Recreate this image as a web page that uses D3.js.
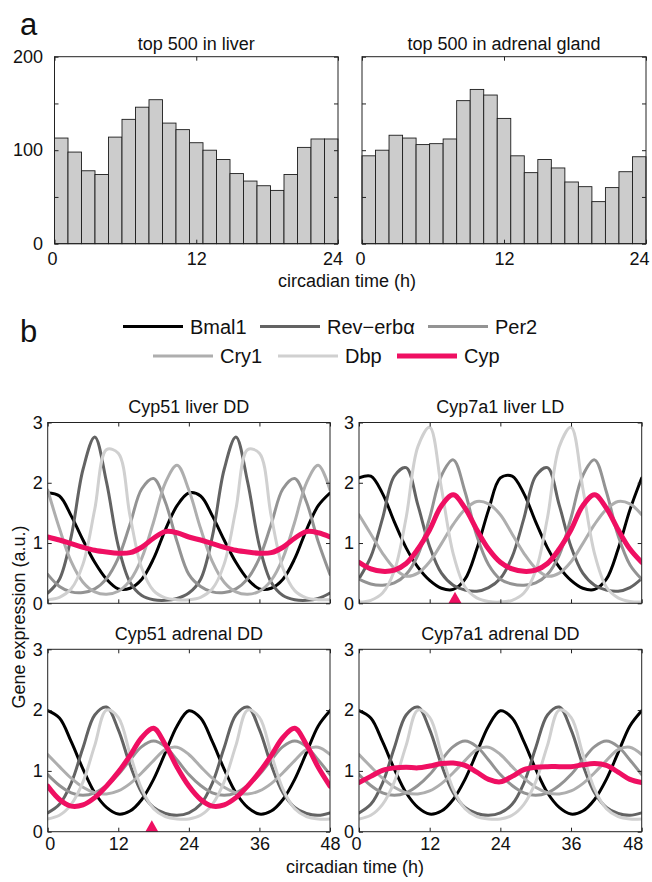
<!DOCTYPE html>
<html><head><meta charset="utf-8">
<script src="https://cdn.jsdelivr.net/npm/d3@7"></script>
<style>
body{margin:0;background:#fff}
text{font-family:"Liberation Sans",Arial,Helvetica,sans-serif;fill:#111}
</style>
</head><body>
<svg id="c" width="652" height="882"></svg>
<script>
// ---------------- DATA ----------------
// Panel a: histograms of peak phases (21 bins over 0-24 h)
const histTimeTicks = [0, 12, 24];
const histCountTicks = [0, 50, 100, 150, 200];
const histCountLabels = [0, 100, 200];
const liverCounts   = [113, 98, 78, 74, 114, 133, 146, 154, 129, 122, 108, 100, 90, 75, 67, 62, 57, 74, 103, 112, 112];
const adrenalCounts = [94, 100, 116, 113, 106, 107, 112, 153, 165, 159, 134, 94, 76, 90, 81, 66, 61, 45, 60, 77, 93];

// Panel b: gene expression, sampled every 2 h from 0 to 48
const hours = [0,2,4,6,8,10,12,14,16,18,20,22,24,26,28,30,32,34,36,38,40,42,44,46,48];
const timeTicks = [0, 12, 24, 36, 48];
const exprTicks = [0, 1, 2, 3];
const genes = ["Bmal1", "Rev\u2212erb\u03b1", "Per2", "Cry1", "Dbp", "Cyp"];

// Cyp51 liver DD
const lddBmal1 = [1.83,1.78,1.45,1.05,0.68,0.40,0.24,0.25,0.40,0.74,1.22,1.62,1.83,1.78,1.45,1.05,0.68,0.40,0.24,0.25,0.40,0.74,1.22,1.62,1.83];
const lddRev   = [0.17,0.40,1.11,2.22,2.76,2.01,0.95,0.35,0.13,0.06,0.05,0.08,0.17,0.40,1.11,2.22,2.76,2.01,0.95,0.35,0.13,0.06,0.05,0.08,0.17];
const lddPer2  = [0.48,0.28,0.19,0.18,0.24,0.41,0.75,1.31,1.90,2.07,1.68,1.02,0.48,0.28,0.19,0.18,0.24,0.41,0.75,1.31,1.90,2.07,1.68,1.02,0.48];
const lddCry1  = [1.88,1.24,0.69,0.35,0.19,0.15,0.20,0.38,0.75,1.35,2.00,2.29,1.88,1.24,0.69,0.35,0.19,0.15,0.20,0.38,0.75,1.35,2.00,2.29,1.88];
const lddDbp   = [0.06,0.10,0.24,0.65,1.56,2.55,2.49,1.45,0.58,0.21,0.09,0.06,0.06,0.10,0.24,0.65,1.56,2.55,2.49,1.45,0.58,0.21,0.09,0.06,0.06];
const lddCyp   = [1.10,1.05,0.99,0.93,0.88,0.85,0.83,0.84,0.93,1.08,1.19,1.17,1.10,1.05,0.99,0.93,0.88,0.85,0.83,0.84,0.93,1.08,1.19,1.17,1.10];

// Cyp7a1 liver LD
const lldBmal1 = [2.08,2.11,1.82,1.35,0.92,0.60,0.38,0.25,0.23,0.40,0.90,1.55,2.08,2.11,1.82,1.35,0.92,0.60,0.38,0.25,0.23,0.40,0.90,1.55,2.08];
const lldRev   = [0.41,0.77,1.41,2.11,2.25,1.63,0.94,0.50,0.30,0.22,0.20,0.26,0.41,0.77,1.41,2.11,2.25,1.63,0.94,0.50,0.30,0.22,0.20,0.26,0.41];
const lldPer2  = [0.40,0.32,0.30,0.34,0.48,0.80,1.42,2.12,2.38,1.85,1.12,0.64,0.40,0.32,0.30,0.34,0.48,0.80,1.42,2.12,2.38,1.85,1.12,0.64,0.40];
const lldCry1  = [1.47,1.15,0.83,0.58,0.45,0.50,0.69,0.99,1.31,1.56,1.69,1.65,1.47,1.15,0.83,0.58,0.45,0.50,0.69,0.99,1.31,1.56,1.69,1.65,1.47];
const lldDbp   = [0.02,0.05,0.17,0.54,1.42,2.60,2.92,1.91,0.82,0.27,0.09,0.03,0.02,0.05,0.17,0.54,1.42,2.60,2.92,1.91,0.82,0.27,0.09,0.03,0.02];
const lldCyp   = [0.68,0.57,0.53,0.55,0.66,0.90,1.22,1.62,1.80,1.58,1.22,0.90,0.68,0.57,0.53,0.55,0.66,0.90,1.22,1.62,1.80,1.58,1.22,0.90,0.68];

// adrenal DD clock genes (shared by both adrenal panels)
const addBmal1 = [1.99,1.87,1.48,1.03,0.64,0.40,0.29,0.34,0.53,0.86,1.30,1.74,1.99,1.87,1.48,1.03,0.64,0.40,0.29,0.34,0.53,0.86,1.30,1.74,1.99];
const addRev   = [0.31,0.45,0.80,1.38,1.92,2.05,1.68,1.10,0.64,0.40,0.30,0.27,0.31,0.45,0.80,1.38,1.92,2.05,1.68,1.10,0.64,0.40,0.30,0.27,0.31];
const addPer2  = [0.94,0.76,0.64,0.60,0.64,0.76,0.94,1.18,1.40,1.49,1.40,1.18,0.94,0.76,0.64,0.60,0.64,0.76,0.94,1.18,1.40,1.49,1.40,1.18,0.94];
const addCry1  = [1.27,1.07,0.88,0.73,0.64,0.62,0.67,0.79,0.97,1.17,1.35,1.39,1.27,1.07,0.88,0.73,0.64,0.62,0.67,0.79,0.97,1.17,1.35,1.39,1.27];
const addDbp   = [0.21,0.27,0.45,0.82,1.42,2.00,1.88,1.28,0.70,0.38,0.25,0.21,0.21,0.27,0.45,0.82,1.42,2.00,1.88,1.28,0.70,0.38,0.25,0.21,0.21];
const cyp51AdrenalCyp  = [0.75,0.53,0.42,0.44,0.56,0.75,0.98,1.25,1.55,1.70,1.43,1.06,0.75,0.53,0.42,0.44,0.56,0.75,0.98,1.25,1.55,1.70,1.43,1.06,0.75];
const cyp7a1AdrenalCyp = [0.81,0.91,1.01,1.05,1.06,1.05,1.08,1.12,1.13,1.09,0.98,0.86,0.82,0.91,1.02,1.06,1.07,1.07,1.07,1.10,1.12,1.09,0.98,0.86,0.81];

// peak markers (triangles) in h
const cyp7a1LiverPeak = 16.3;
const cyp51AdrenalPeak = 17.7;

// ---------------- STYLE ----------------
const geneColors = ["#000000", "#636363", "#939393", "#aeaeae", "#d0d0d0", "#ef0f62"];
const geneWidths = [3, 3, 3, 3, 3, 5];
const FS = 18;

const svg = d3.select("#c");

function styleAxis(g, showLabels, dxMap) {
  g.select(".domain").remove();
  g.selectAll(".tick line").attr("stroke", "#222").attr("stroke-width", 1);
  g.selectAll(".tick text").attr("font-size", FS).attr("fill", "#111")
    .attr("font-family", '"Liberation Sans",Arial,sans-serif');
  if (dxMap) g.selectAll(".tick text").attr("dx", d => (dxMap[d] || 0));
  if (!showLabels) g.selectAll(".tick text").remove();
}

// ---------------- PANEL A ----------------
svg.append("text").attr("x", 20).attr("y", 35).attr("font-size", 31).text("a");

const histPanels = [
  { title: "top 500 in liver", counts: adrenalCounts && liverCounts, x0: 54.5, x1: 338, yLabels: true, dx: {0: -2.5, 24: -5.5} },
  { title: "top 500 in adrenal gland", counts: adrenalCounts, x0: 362, x1: 646, yLabels: false, dx: {0: -2, 24: -7} }
];
const hy = d3.scaleLinear().domain([0, 200]).range([243.7, 56.7]);

histPanels.forEach(p => {
  const g = svg.append("g");
  const x = d3.scaleLinear().domain([0, 24]).range([p.x0, p.x1]);
  const band = d3.scaleBand().domain(d3.range(p.counts.length)).range([p.x0, p.x1]).padding(0);
  g.selectAll("rect.bar").data(p.counts).join("rect").attr("class", "bar")
    .attr("x", (d, i) => band(i)).attr("width", band.bandwidth())
    .attr("y", d => hy(d)).attr("height", d => hy(0) - hy(d))
    .attr("fill", "#cccccc").attr("stroke", "#1c1c1c").attr("stroke-width", 0.9);

  const bx = g.append("g").attr("transform", `translate(0,${hy(0)})`)
    .call(d3.axisBottom(x).tickValues(histTimeTicks).tickSize(-4).tickSizeOuter(0).tickPadding(9));
  styleAxis(bx, true, p.dx);
  const tx = g.append("g").attr("transform", `translate(0,${hy(200)})`)
    .call(d3.axisTop(x).tickValues(histTimeTicks).tickSize(-4).tickSizeOuter(0));
  styleAxis(tx, false);
  const ly = g.append("g").attr("transform", `translate(${p.x0},0)`)
    .call(d3.axisLeft(hy).tickValues(histCountTicks).tickSize(-4).tickSizeOuter(0).tickPadding(11.5)
      .tickFormat(d => histCountLabels.includes(d) ? d : ""));
  styleAxis(ly, p.yLabels);
  const ry = g.append("g").attr("transform", `translate(${p.x1},0)`)
    .call(d3.axisRight(hy).tickValues(histCountTicks).tickSize(-4).tickSizeOuter(0));
  styleAxis(ry, false);

  g.append("rect").attr("x", p.x0).attr("y", hy(200)).attr("width", p.x1 - p.x0).attr("height", hy(0) - hy(200))
    .attr("fill", "none").attr("stroke", "#222").attr("stroke-width", 1);
  g.append("text").attr("x", (p.x0 + p.x1) / 2).attr("y", 50).attr("text-anchor", "middle")
    .attr("font-size", FS).text(p.title);
});
svg.append("text").attr("x", 347).attr("y", 287).attr("text-anchor", "middle").attr("font-size", FS)
  .text("circadian time (h)");

// ---------------- PANEL B ----------------
svg.append("text").attr("x", 20).attr("y", 342).attr("font-size", 31).text("b");

// legend
const legendLayout = [
  { x: 123, y: 326.5 }, { x: 260, y: 326.5 }, { x: 428, y: 326.5 },
  { x: 153, y: 356 }, { x: 278, y: 356 }, { x: 397, y: 356 }
];
genes.forEach((name, i) => {
  const L = legendLayout[i];
  svg.append("line").attr("x1", L.x).attr("x2", L.x + 60).attr("y1", L.y).attr("y2", L.y)
    .attr("stroke", geneColors[i]).attr("stroke-width", geneWidths[i]);
  svg.append("text").attr("x", L.x + 67).attr("y", L.y + 7).attr("font-size", 20).text(name);
});

const linePanels = [
  { title: "Cyp51 liver DD", x0: 47.7, x1: 330, y0: 422.5, y1: 603.3, xLabels: false, dx: {},
    series: [lddBmal1, lddRev, lddPer2, lddCry1, lddDbp, lddCyp], marker: null },
  { title: "Cyp7a1 liver LD", x0: 359, x1: 641.7, y0: 422.5, y1: 603.3, xLabels: false, dx: {},
    series: [lldBmal1, lldRev, lldPer2, lldCry1, lldDbp, lldCyp], marker: cyp7a1LiverPeak },
  { title: "Cyp51 adrenal DD", x0: 47.7, x1: 330, y0: 649.3, y1: 831.7, xLabels: true, dx: {0: 2},
    series: [addBmal1, addRev, addPer2, addCry1, addDbp, cyp51AdrenalCyp], marker: cyp51AdrenalPeak },
  { title: "Cyp7a1 adrenal DD", x0: 359, x1: 641.7, y0: 649.3, y1: 831.7, xLabels: true, dx: {0: -3, 48: -9},
    series: [addBmal1, addRev, addPer2, addCry1, addDbp, cyp7a1AdrenalCyp], marker: null }
];

linePanels.forEach((p, pi) => {
  const g = svg.append("g");
  const x = d3.scaleLinear().domain([0, 48]).range([p.x0, p.x1]);
  const y = d3.scaleLinear().domain([0, 3]).range([p.y1, p.y0]);
  const clipId = "clip" + pi;
  g.append("clipPath").attr("id", clipId).append("rect")
    .attr("x", p.x0).attr("y", p.y0).attr("width", p.x1 - p.x0).attr("height", p.y1 - p.y0);

  const line = d3.line().x((d, i) => x(hours[i])).y(d => y(d)).curve(d3.curveCatmullRom.alpha(0.5));
  const lg = g.append("g").attr("clip-path", `url(#${clipId})`);
  p.series.forEach((s, si) => {
    lg.append("path").attr("d", line(s)).attr("fill", "none")
      .attr("stroke", geneColors[si]).attr("stroke-width", geneWidths[si])
      .attr("stroke-linejoin", "round").attr("stroke-linecap", "round");
  });

  if (p.marker !== null) {
    const mx = x(p.marker), my = y(0);
    g.append("path").attr("d", `M${mx - 6.5},${my} L${mx + 6.5},${my} L${mx},${my - 11.5} Z`)
      .attr("fill", geneColors[5]);
  }

  const bx = g.append("g").attr("transform", `translate(0,${p.y1})`)
    .call(d3.axisBottom(x).tickValues(timeTicks).tickSize(-4).tickSizeOuter(0).tickPadding(5.5));
  styleAxis(bx, p.xLabels, p.dx);
  const tx = g.append("g").attr("transform", `translate(0,${p.y0})`)
    .call(d3.axisTop(x).tickValues(timeTicks).tickSize(-4).tickSizeOuter(0));
  styleAxis(tx, false);
  const ly = g.append("g").attr("transform", `translate(${p.x0},0)`)
    .call(d3.axisLeft(y).tickValues(exprTicks).tickFormat(d3.format("d")).tickSize(-4).tickSizeOuter(0).tickPadding(5));
  styleAxis(ly, true);
  const ry = g.append("g").attr("transform", `translate(${p.x1},0)`)
    .call(d3.axisRight(y).tickValues(exprTicks).tickSize(-4).tickSizeOuter(0));
  styleAxis(ry, false);

  g.append("rect").attr("x", p.x0).attr("y", p.y0).attr("width", p.x1 - p.x0).attr("height", p.y1 - p.y0)
    .attr("fill", "none").attr("stroke", "#222").attr("stroke-width", 1);
  g.append("text").attr("x", (p.x0 + p.x1) / 2).attr("y", p.y0 - 9.5).attr("text-anchor", "middle")
    .attr("font-size", FS).text(p.title);
});

svg.append("text").attr("x", 355).attr("y", 873).attr("text-anchor", "middle").attr("font-size", FS)
  .text("circadian time (h)");
svg.append("text").attr("transform", "translate(25,617) rotate(-90)").attr("text-anchor", "middle")
  .attr("font-size", FS).text("Gene expression (a.u.)");
</script>
</body></html>
